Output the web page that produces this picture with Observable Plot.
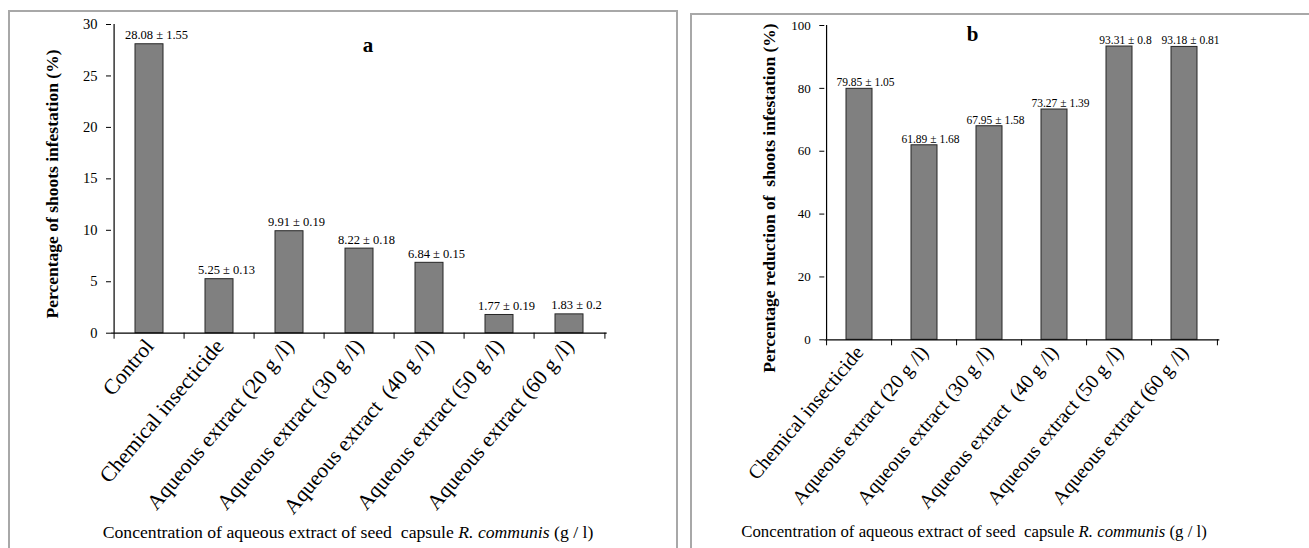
<!DOCTYPE html>
<html><head><meta charset="utf-8">
<script src="https://cdn.jsdelivr.net/npm/d3@7"></script>
<script src="https://cdn.jsdelivr.net/npm/@observablehq/plot@0.6"></script>
<style>
body{margin:0;background:#fff;}
#wrap{position:relative;width:1309px;height:548px;overflow:hidden;font-family:"Liberation Serif","Times New Roman",Times,"DejaVu Serif",serif;color:#000;background:#fff;}
.panel{position:absolute;top:0;}
.panel svg{max-width:none;}
.border{position:absolute;border:2px solid #a8a8a8;box-sizing:border-box;pointer-events:none;}
.ytitle{position:absolute;white-space:pre;font-weight:bold;line-height:1;transform:translate(-50%,-50%) rotate(-90deg);}
.xtitle{position:absolute;white-space:pre;line-height:1;transform:translateX(-50%);}
.letter{position:absolute;font-weight:bold;line-height:1;transform:translateX(-50%);}
svg text{white-space:pre;}
</style></head>
<body>
<div id="wrap">
  <div class="panel" id="pa" style="left:0px"></div>
  <div class="panel" id="pb" style="left:690px"></div>
  <div class="border" style="left:8px;top:10px;width:670px;height:600px"></div>
  <div class="border" style="left:690px;top:13px;width:700px;height:600px"></div>
  <div class="ytitle" style="left:52.6px;top:183.5px;font-size:17.5px">Percentage of shoots infestation (%)</div>
  <div class="ytitle" style="left:769.7px;top:198.4px;font-size:17.5px">Percentage reduction of  shoots infestation (%)</div>
  <div class="xtitle" style="left:348px;top:523.5px;font-size:17.7px">Concentration of aqueous extract of seed  capsule <i>R. communis</i> (g / l)</div>
  <div class="xtitle" style="left:974px;top:524.2px;font-size:16.8px">Concentration of aqueous extract of seed  capsule <i>R. communis</i> (g / l)</div>
  <div class="letter" style="left:368px;top:35.4px;font-size:21px">a</div>
  <div class="letter" style="left:972.7px;top:24.1px;font-size:21px">b</div>
</div>
<script>
// Panel a: percentage of shoots infestation
const catsA = ["Control", "Chemical insecticide", "Aqueous extract (20 g /l)", "Aqueous extract (30 g /l)", "Aqueous extract  (40 g /l)", "Aqueous extract (50 g /l)", "Aqueous extract (60 g /l)"];
const meanA = [28.08, 5.25, 9.91, 8.22, 6.84, 1.77, 1.83];
const seA = ["1.55", "0.13", "0.19", "0.18", "0.15", "0.19", "0.2"];
const ticksA = [0, 5, 10, 15, 20, 25, 30];

// Panel b: percentage reduction of shoots infestation
const catsB = ["Chemical insecticide", "Aqueous extract (20 g /l)", "Aqueous extract (30 g /l)", "Aqueous extract  (40 g /l)", "Aqueous extract (50 g /l)", "Aqueous extract (60 g /l)"];
const meanB = [79.85, 61.89, 67.95, 73.27, 93.31, 93.18];
const seB = ["1.05", "1.68", "1.58", "1.39", "0.8", "0.81"];
const ticksB = [0, 20, 40, 60, 80, 100];

const SERIF = '"Liberation Serif","Times New Roman",Times,"DejaVu Serif",serif';

function table(cats, means, ses) {
  return cats.map((c, i) => ({cat: c, v: means[i], label: means[i].toFixed(2) + " \u00b1 " + ses[i]}));
}

function panel(o) {
  const {data, cats, width, height, ml, mr, mt, mb, yMax, yTicks, tickFont, labelFont, labelDx, labelDy, xFont} = o;
  const step = (width - ml - mr) / cats.length;
  return Plot.plot({
    width, height,
    marginLeft: ml, marginRight: mr, marginTop: mt, marginBottom: mb,
    style: {background: "transparent", fontFamily: SERIF, overflow: "visible", color: "#000"},
    x: {domain: cats, paddingInner: 0.6, paddingOuter: 0.3, label: null},
    y: {domain: [0, yMax], label: null},
    marks: [
      Plot.barY(data, {x: "cat", y: "v", fill: "#808080", stroke: "#262626", strokeWidth: 1}),
      Plot.ruleY([0], {stroke: "#000", strokeWidth: 1.2}),
      Plot.ruleX([cats[0]], {dx: -step / 2, stroke: "#000", strokeWidth: 1.2}),
      Plot.ruleX(cats, {x: d => d, y1: 0, y2: 0, dx: -step / 2, insetBottom: -6, stroke: "#000"}),
      Plot.ruleX([cats[cats.length - 1]], {y1: 0, y2: 0, dx: step / 2, insetBottom: -6, stroke: "#000"}),
      Plot.axisY({ticks: yTicks, tickSize: 5, tickPadding: 9, fontSize: tickFont, label: null}),
      Plot.axisX({tickSize: 0, tickPadding: 9, tickRotate: -50, fontSize: xFont, label: null}),
      Plot.text(data, {x: "cat", y: "v", text: "label", dx: labelDx, dy: labelDy, lineAnchor: "bottom", fontSize: labelFont})
    ]
  });
}

document.getElementById("pa").append(panel({
  data: table(catsA, meanA, seA), cats: catsA,
  width: 680, height: 548, ml: 111, mr: 73.3, mt: 24, mb: 215.3,
  yMax: 30, yTicks: ticksA, tickFont: 14.5, labelFont: 12.5, labelDx: 7, labelDy: -5, xFont: 21.5
}));
document.getElementById("pb").append(panel({
  data: table(catsB, meanB, seB), cats: catsB,
  width: 619, height: 548, ml: 134.3, mr: 89.7, mt: 25, mb: 208.7,
  yMax: 100, yTicks: ticksB, tickFont: 13, labelFont: 11.5, labelDx: 6, labelDy: -2.5, xFont: 20
}));
</script>
</body></html>
